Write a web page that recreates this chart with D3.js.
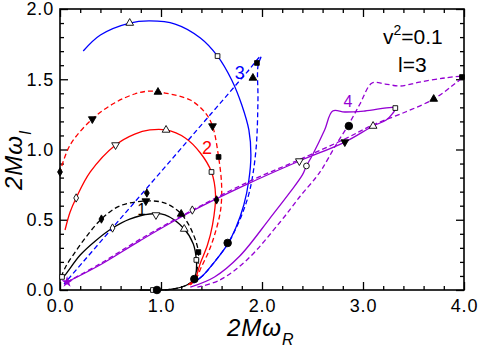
<!DOCTYPE html>
<html>
<head>
<meta charset="utf-8">
<script src="https://cdn.jsdelivr.net/npm/d3@7"></script>
<style>
  body { margin: 0; background: white; }
  svg text { font-family: "Liberation Sans", Arial, sans-serif; }
</style>
</head>
<body>
<svg id="mainSvg" width="480" height="349"></svg>
<script>
// ---- data (2M omega_R, 2M omega_I) ----
var xMajor = [0, 1, 2, 3, 4];
var yMajor = [0, 0.5, 1, 1.5, 2];

var curve1Solid = [[0.79,0],[0.94,0],[1.09,0.004],[1.24,0.03],[1.33,0.078],[1.35,0.142],[1.35,0.214],[1.32,0.327],
  [1.23,0.434],[1.04,0.534],[0.89,0.541],[0.69,0.505],[0.52,0.441],[0.35,0.349],[0.2,0.249],[0.05,0.107],[0.02,0.085]];
var curve1Dashed = [[0.96,0],[1.09,0.004],[1.24,0.03],[1.33,0.078],[1.36,0.157],[1.37,0.27],[1.31,0.413],[1.2,0.541],
  [1.04,0.619],[0.85,0.633],[0.59,0.598],[0.41,0.505],[0.25,0.37],[0.13,0.249],[0.06,0.171],[0.01,0.093]];
var curve2Solid = [[1.27,0.036],[1.34,0.085],[1.39,0.192],[1.46,0.32],[1.51,0.463],[1.54,0.676],[1.5,0.84],[1.39,0.975],
  [1.24,1.082],[1.05,1.139],[0.89,1.139],[0.74,1.11],[0.55,1.032],[0.3,0.84],[0.16,0.655],[0.1,0.555],[0.05,0.427]];
var curve2Dashed = [[1.29,0.036],[1.35,0.085],[1.4,0.164],[1.47,0.27],[1.53,0.391],[1.59,0.569],[1.6,0.747],[1.57,0.947],
  [1.51,1.167],[1.44,1.26],[1.29,1.352],[1.04,1.402],[0.89,1.416],[0.74,1.395],[0.54,1.331],[0.32,1.217],[0.1,1.032],[0,0.84]];
var curve3Solid = [[1.32,0.05],[1.42,0.107],[1.53,0.2],[1.66,0.327],[1.74,0.441],[1.82,0.605],[1.87,0.783],[1.89,0.961],
  [1.87,1.139],[1.8,1.317],[1.7,1.495],[1.56,1.665],[1.39,1.794],[1.14,1.893],[0.89,1.915],[0.69,1.9],[0.4,1.815],[0.23,1.701]];
var curve3Dashed = [[1.32,0.05],[1.42,0.107],[1.53,0.2],[1.66,0.327],[1.71,0.391],[1.8,0.534],[1.88,0.712],[1.94,0.996],
  [1.96,1.352],[1.96,1.594],[1.99,1.665],[1.85,1.549],[1.5,1.258],[1.0,0.842],[0.5,0.426],[0.04,0.043]];
var curve4Solid = [[1.29,0.02],[1.53,0.093],[1.78,0.242],[2.08,0.512],[2.28,0.698],[2.4,0.819],[2.44,0.883],[2.5,0.961],
  [2.62,1.139],[2.7,1.274],[2.82,1.267],[3.02,1.274],[3.32,1.295],[3.29,1.253],[3.23,1.21],[3.1,1.167],[2.82,1.053],
  [2.37,0.918],[1.88,0.762],[1.31,0.562],[0.79,0.35],[0.4,0.18],[0.07,0.057]];
var curve4Dashed = [[1.36,0.02],[1.58,0.07],[1.85,0.214],[2.18,0.484],[2.38,0.669],[2.53,0.797],[2.6,0.868],[2.72,1.018],
  [2.86,1.181],[2.97,1.324],[3.09,1.473],[3.22,1.466],[3.37,1.452],[3.56,1.48],[3.81,1.509],[3.98,1.516],[3.88,1.452],
  [3.7,1.359],[3.42,1.267],[3.1,1.175],[2.82,1.075],[2.37,0.928],[1.88,0.775],[1.31,0.568],[0.79,0.36],[0.4,0.188],[0.07,0.057]];

// markers: [x, y, symbol, filled]
var markers = [
  [0.02,0.093,"square",false],[0.52,0.441,"diamond",false],[0.95,0.534,"down",false],[1.23,0.434,"up",false],
  [1.35,0.214,"square",false],[0.92,0,"square",false],
  [0.41,0.505,"diamond",true],[0.85,0.633,"down",true],[1.2,0.541,"up",true],[1.37,0.27,"square",true],[0.96,0,"circle",true],
  [1.33,0.078,"circle",true],
  [0.16,0.655,"diamond",false],[0.55,1.032,"down",false],[1.05,1.139,"up",false],[1.5,0.84,"square",false],
  [0,0.84,"diamond",true],[0.32,1.217,"down",true],[0.97,1.409,"up",true],[1.57,0.947,"square",true],
  [0.69,1.9,"up",false],[1.56,1.665,"square",false],[1.66,0.335,"circle",true],
  [0.86,0.69,"diamond",true],[1.51,1.167,"down",true],[1.91,1.509,"up",true],[1.95,1.616,"square",true],
  [1.31,0.569,"diamond",false],[2.37,0.918,"down",false],[3.1,1.167,"up",false],[3.32,1.295,"square",false],[2.44,0.883,"circle",false],
  [1.55,0.641,"diamond",true],[2.82,1.053,"down",true],[3.7,1.359,"up",true],[3.98,1.516,"square",true],[2.86,1.167,"circle",true]
];

var curves = [
  {pts: curve1Solid, color: "black", dash: null},
  {pts: curve1Dashed, color: "black", dash: "5,3"},
  {pts: curve2Solid, color: "#ff0000", dash: null},
  {pts: curve2Dashed, color: "#ff0000", dash: "5,3"},
  {pts: curve3Solid, color: "#0000ff", dash: null},
  {pts: curve3Dashed, color: "#0000ff", dash: "5,3"},
  {pts: curve4Solid, color: "#9400d3", dash: null},
  {pts: curve4Dashed, color: "#9400d3", dash: "5,3"}
];

var plotLeft = 60, plotRight = 464, plotTop = 9, plotBottom = 290;
var svg = d3.select("#mainSvg");

var x = d3.scaleLinear().domain([0, 4]).range([plotLeft, plotRight]);
var y = d3.scaleLinear().domain([0, 2]).range([plotBottom, plotTop]);

var xMinor = d3.range(0, 4.001, 0.2).filter(function(d){ return Math.abs(d - Math.round(d)) > 1e-6; });
var yMinor = d3.range(0, 2.001, 0.1).filter(function(d){ return Math.abs(d*2 - Math.round(d*2)) > 1e-6; });

function drawAxis(axis, tx, ty){
  var g = svg.append("g").attr("transform", "translate(" + tx + "," + ty + ")").call(axis);
  g.select(".domain").remove();
  g.selectAll("line").attr("stroke", "black").attr("stroke-width", 1.3);
  return g;
}

// ticks pointing inward on all four sides
var gx = drawAxis(d3.axisBottom(x).tickValues(xMajor).tickSize(-8).tickPadding(9).tickFormat(d3.format(".1f")), 0, plotBottom);
drawAxis(d3.axisBottom(x).tickValues(xMinor).tickSize(-4).tickFormat(""), 0, plotBottom);
drawAxis(d3.axisTop(x).tickValues(xMajor).tickSize(-8).tickFormat(""), 0, plotTop);
drawAxis(d3.axisTop(x).tickValues(xMinor).tickSize(-4).tickFormat(""), 0, plotTop);
var gy = drawAxis(d3.axisLeft(y).tickValues(yMajor).tickSize(-8).tickPadding(6).tickFormat(d3.format(".1f")), plotLeft, 0);
drawAxis(d3.axisLeft(y).tickValues(yMinor).tickSize(-4).tickFormat(""), plotLeft, 0);
drawAxis(d3.axisRight(y).tickValues(yMajor).tickSize(-8).tickFormat(""), plotRight, 0);
drawAxis(d3.axisRight(y).tickValues(yMinor).tickSize(-4).tickFormat(""), plotRight, 0);

gx.selectAll("text").attr("font-size", 18).attr("letter-spacing", 0.8).attr("fill", "black");
gy.selectAll("text").attr("font-size", 18).attr("letter-spacing", 0.8).attr("fill", "black");

svg.append("rect")
  .attr("x", plotLeft).attr("y", plotTop)
  .attr("width", plotRight - plotLeft).attr("height", plotBottom - plotTop)
  .attr("fill", "none").attr("stroke", "black").attr("stroke-width", 1.6);

// curves
var line = d3.line()
  .x(function(d){ return x(d[0]); })
  .y(function(d){ return y(d[1]); })
  .curve(d3.curveCatmullRom.alpha(0.5));

svg.selectAll(".curve")
  .data(curves)
  .enter().append("path")
    .attr("class", "curve")
    .attr("d", function(d){ return line(d.pts); })
    .attr("fill", "none")
    .attr("stroke", function(d){ return d.color; })
    .attr("stroke-width", 1.3)
    .attr("stroke-dasharray", function(d){ return d.dash; });

// symbols
var symbolTypes = {
  square: d3.symbolSquare, diamond: d3.symbolDiamond, circle: d3.symbolCircle, up: d3.symbolTriangle, down: d3.symbolTriangle
};
var symbolSizes = { square: 22, diamond: 20, circle: 26, up: 26, down: 26 };

svg.selectAll(".marker")
  .data(markers)
  .enter().append("path")
    .attr("class", "marker")
    .attr("d", function(d){
      var s = symbolSizes[d[2]];
      if (d[2] === "circle" && d[3]) s = 45;
      return d3.symbol().type(symbolTypes[d[2]]).size(s)();
    })
    .attr("transform", function(d){
      var r = d[2] === "down" ? " rotate(180)" : "";
      return "translate(" + x(d[0]) + "," + y(d[1]) + ")" + r;
    })
    .attr("fill", function(d){ return d[3] ? "black" : "white"; })
    .attr("stroke", "black")
    .attr("stroke-width", 0.9);

// purple star at the origin end of curve 4
svg.append("path")
  .attr("d", d3.symbol().type(d3.symbolStar).size(40)())
  .attr("transform", "translate(" + x(0.07) + "," + y(0.057) + ")")
  .attr("fill", "#9400d3");

// curve numbers
var curveLabels = [
  {t: "1", x: 0.81, y: 0.534, c: "black", s: 16},
  {t: "2", x: 1.455, y: 0.968, c: "#ff0000", s: 18},
  {t: "3", x: 1.78, y: 1.502, c: "#0000ff", s: 18},
  {t: "4", x: 2.85, y: 1.302, c: "#9400d3", s: 16}
];
svg.selectAll(".clabel")
  .data(curveLabels)
  .enter().append("text")
    .attr("x", function(d){ return x(d.x); })
    .attr("y", function(d){ return y(d.y); })
    .attr("text-anchor", "middle")
    .attr("font-size", function(d){ return d.s; })
    .attr("fill", function(d){ return d.c; })
    .text(function(d){ return d.t; });

// v^2 and l
var vt = svg.append("text").attr("x", 383).attr("y", 44).attr("font-size", 21).attr("fill", "black");
vt.append("tspan").text("v");
vt.append("tspan").attr("font-size", 14).attr("dy", -9).text("2");
vt.append("tspan").attr("dy", 9).text("=0.1");
svg.append("text").attr("x", 398).attr("y", 72).attr("font-size", 21).attr("fill", "black").text("l=3");

// axis titles
var xt = svg.append("text").attr("x", 227).attr("y", 336).attr("font-size", 24).attr("letter-spacing", 1)
  .attr("font-style", "italic").attr("fill", "black");
xt.append("tspan").text("2M\u03c9");
xt.append("tspan").attr("font-size", 16).attr("dy", 9).text("R");

var yt = svg.append("text").attr("transform", "translate(22,190) rotate(-90)").attr("letter-spacing", 1)
  .attr("font-size", 24).attr("font-style", "italic").attr("fill", "black");
yt.append("tspan").text("2M\u03c9");
yt.append("tspan").attr("font-size", 16).attr("dy", 9).text("I");
</script>
</body>
</html>
